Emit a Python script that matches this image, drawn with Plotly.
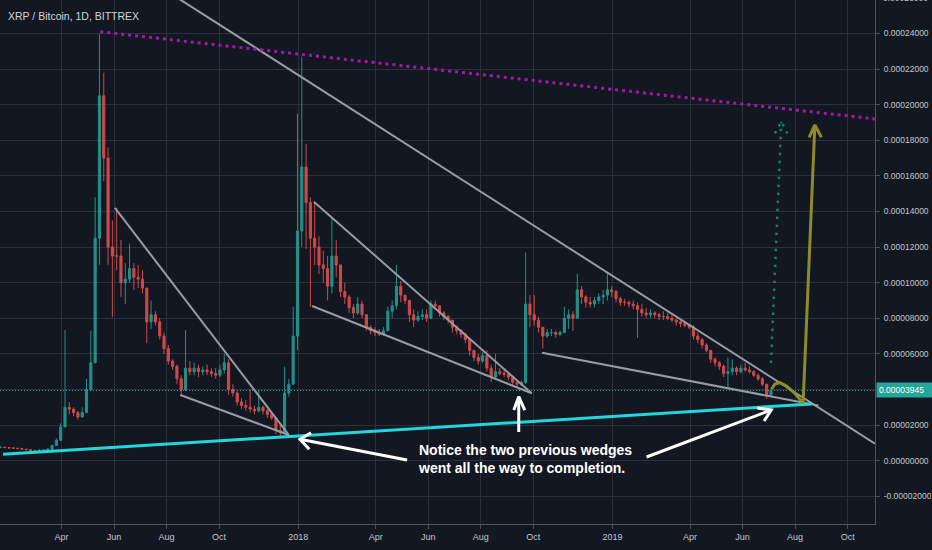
import pandas as pd
import plotly.graph_objects as go

TITLE = "XRP / Bitcoin, 1D, BITTREX"
CANDLE_START = "2017-01-20"
CANDLE_STEP = "5D"
LAST_PRICE_LABEL = "0.00003945"
LAST_PRICE = 3945

# candle values in satoshi (1e-8 BTC), one candle per 5 days
close_sat = [750, 740, 720, 700, 680, 650, 620, 580, 570, 590, 600, 640, 850, 1150, 1900, 3000,
             2900, 2700, 2450, 2700, 4000, 5500, 12500, 20500, 17000, 12000, 11500, 11500, 10000, 10200,
             10800, 10300, 10200, 9700, 7800, 8200, 7800, 7000, 6300, 5600, 5300, 4600, 4000, 5200,
             5000, 5200, 5000, 5100, 5000, 4900, 4800, 5100, 5500, 4000, 3800, 3300, 3100, 3000, 2900,
             2800, 3000, 2800, 2600, 2400, 1700, 1600, 3800, 4300, 7000, 12900, 16500, 14500, 12500,
             12000, 11000, 10800, 9800, 11500, 11000, 9500, 9200, 8600, 8300, 8800, 8200, 7500, 7300,
             7200, 7100, 7300, 8400, 8700, 9800, 9300, 9000, 8200, 7900, 8100, 8200, 8000, 8800, 8700,
             8300, 8100, 7900, 7500, 7300, 7100, 6800, 6200, 5800, 5600, 5900, 5200, 4700, 5000, 4900,
             4850, 4700, 4400, 4300, 4400, 8800, 8200, 7900, 7500, 7000, 7200, 7200, 7100, 7200, 8000,
             8200, 8000, 9600, 9200, 8900, 8800, 9000, 9200, 9300, 9600, 9500, 9100, 8900, 8900, 8800,
             8700, 8500, 8300, 8200, 8300, 8200, 8100, 8100, 8000, 7900, 7800, 7700, 7600, 7500, 7000,
             6800, 6500, 6200, 5700, 5500, 5300, 4900, 5000, 5200, 5000, 5200, 5100, 5000, 4800, 4600,
             4300, 3700, 3945]
high_sat = [800, 780, 760, 740, 720, 690, 660, 630, 610, 620, 640, 700, 900, 1250, 2100, 7340,
            3300, 3000, 2800, 3000, 4600, 7300, 14800, 24000, 21800, 17600, 13500, 14200, 12400, 11100,
            12200, 11100, 11000, 10700, 9700, 9000, 8400, 8000, 7200, 6500, 5700, 5400, 4800, 7340,
            5600, 5500, 5400, 5300, 5400, 5200, 5200, 5400, 6000, 5700, 4300, 3900, 3500, 3400, 4000,
            3100, 4000, 3100, 2900, 2700, 2400, 2000, 5270, 4600, 8650, 19500, 22700, 17800, 14800,
            14500, 12600, 11800, 11500, 13600, 12400, 11000, 10000, 9300, 8800, 9200, 9000, 8200, 7600,
            7500, 7400, 7500, 8650, 9000, 11000, 10100, 9300, 9000, 8500, 8400, 8500, 8500, 9000, 9000,
            8700, 8400, 8200, 7900, 7600, 7400, 7200, 6800, 6200, 6000, 6100, 6200, 5400, 6000, 5200,
            5100, 5000, 4700, 4500, 4500, 11700, 9300, 9300, 8100, 7500, 7400, 7400, 7300, 7300, 8650,
            8500, 8400, 10500, 9800, 9300, 9200, 9200, 9400, 9600, 10600, 9800, 9600, 9200, 9100, 9000,
            9000, 8900, 8800, 8600, 8500, 8400, 8300, 8400, 8300, 8200, 8000, 7900, 7800, 7700, 7600,
            7200, 6900, 6600, 6200, 5800, 5600, 5400, 5800, 5700, 5300, 5400, 5500, 5300, 5100, 4900,
            4700, 4300, 4000]
low_sat = [700, 700, 690, 670, 650, 620, 590, 550, 540, 550, 570, 600, 640, 850, 1150, 1900,
           2600, 2500, 2300, 2450, 2700, 3900, 5500, 11000, 15700, 11000, 8060, 10700, 9200, 8800,
           10000, 9600, 9700, 9400, 6600, 7400, 7600, 6800, 6000, 5400, 5100, 4300, 3700, 3900,
           4800, 4800, 4700, 4800, 4800, 4700, 4600, 4700, 4900, 3700, 3600, 3100, 2900, 2800, 2700,
           2600, 2700, 2600, 2400, 2300, 1500, 1330, 1600, 3600, 4300, 6200, 12000, 11900, 8650,
           11000, 10500, 10000, 9000, 9400, 10300, 9200, 8800, 8300, 8000, 8200, 8000, 7300, 7100,
           7000, 7000, 7000, 7300, 8000, 8500, 8900, 8800, 7800, 7500, 7800, 7900, 7800, 8000, 8500,
           8100, 7900, 7700, 7200, 7100, 6900, 6600, 5900, 5600, 5400, 5500, 5000, 4400, 4600, 4800,
           4700, 4500, 4200, 4100, 4200, 4300, 7500, 7600, 7200, 6300, 6900, 7000, 6900, 7000, 7200,
           7400, 7300, 8000, 8800, 8600, 8600, 8600, 8800, 8800, 9000, 9200, 8900, 8700, 8700, 8600,
           8500, 6900, 8100, 8000, 8000, 8000, 7900, 7900, 7900, 7800, 7600, 7500, 7500, 7400, 6800,
           6600, 6300, 6100, 5500, 5300, 5100, 4700, 4090, 4800, 4800, 4900, 5000, 4900, 4700, 4500,
           4200, 3480, 3600]

# x-axis tick labels
tick_dates = ["2017-04-01", "2017-06-01", "2017-08-01", "2017-10-01", "2018-01-01",
              "2018-04-01", "2018-06-01", "2018-08-01", "2018-10-01", "2019-01-01",
              "2019-04-01", "2019-06-01", "2019-08-01", "2019-10-01"]
tick_labels = ["Apr", "Jun", "Aug", "Oct", "2018", "Apr", "Jun", "Aug", "Oct", "2019",
               "Apr", "Jun", "Aug", "Oct"]
# y-axis ticks (satoshi) and labels; the 0.00004 label is hidden behind the price label
y_ticks_sat = [-2000, 0, 2000, 4000, 6000, 8000, 10000, 12000, 14000, 16000, 18000,
               20000, 22000, 24000]
y_tick_labels = ["-0.00002000", "0.00000000", "0.00002000", "", "0.00006000", "0.00008000",
                 "0.00010000", "0.00012000", "0.00014000", "0.00016000", "0.00018000",
                 "0.00020000", "0.00022000", "0.00024000"]
TOP_CUT_LABEL = "0.00026000"

# drawings (dates, satoshi values)
magenta_dates = ["2017-05-16", "2019-11-01 19:00"]
magenta_vals = [24100, 19200]
big_line_dates = ["2017-07-24", "2019-11-01 19:00"]
big_line_vals = [26640, 961]
wedge1_dates = ["2017-06-02", "2017-12-21", None, "2017-08-17", "2017-12-21"]
wedge1_vals = [14200, 1444, None, 3691, 1444]
wedge2_dates = ["2018-01-19", "2018-09-29", None, "2018-01-17", "2018-09-29"]
wedge2_vals = [14551, 3787, None, 8691, 3787]
wedge3_dates = ["2018-10-11", "2019-08-28"]
wedge3_vals = [6067, 3101]
cyan_dates = ["2017-01-23", "2019-08-20"]
cyan_vals = [360, 3185]
teal_arrow_dates = ["2019-07-04", "2019-07-16", None, "2019-07-08 12:00", "2019-07-16", "2019-07-23"]
teal_arrow_vals = [5489, 19045, None, 18393, 19045, 18393]
olive_dates = ["2019-07-04 14:00", "2019-07-08 12:00", "2019-07-14 07:00", "2019-07-22",
               "2019-07-31 17:00", "2019-08-08 10:00", "2019-08-10 07:00", "2019-08-23 22:00",
               None, "2019-08-17 07:00", "2019-08-23 22:00", "2019-08-31 12:00"]
olive_vals = [4011, 4309, 4382, 4197, 3786, 3315, 3225, 18860, None, 18169, 18860, 18169]
white_dates = ["2018-05-07 07:00", "2018-01-03", None, "2018-01-15 17:00", "2018-01-03", "2018-01-13 17:00",
               None, "2019-02-09 10:00", "2019-07-04 07:00", None, "2019-06-18", "2019-07-04 07:00", "2019-06-26",
               None, "2018-09-14", "2018-09-14", None, "2018-09-08 07:00", "2018-09-14", "2018-09-21"]
white_vals = [39, 1202, None, 1573, 1202, 640,
              None, 208, 2848, None, 2961, 2848, 2230,
              None, 1612, 3595, None, 2848, 3595, 2848]
note_lines = ["Notice the two previous wedges", "went all the way to completion."]
note_date = "2018-05-17 17:00"
note_val = 100

S = 1e-8
def sc(vals):
    return [None if v is None else v * S for v in vals]

BG = "#131722"
GRID = "#2c303b"
UP = "#26a69a"
DOWN = "#ef5350"
TXT = "#c3c6ce"
AXFONT = "Liberation Sans Narrow, Liberation Sans, Arial"

dates = pd.date_range(CANDLE_START, periods=len(close_sat), freq=CANDLE_STEP)
open_sat = [close_sat[0]] + close_sat[:-1]

fig = go.Figure()
fig.add_trace(go.Candlestick(
    x=dates, open=sc(open_sat), high=sc(high_sat), low=sc(low_sat), close=sc(close_sat),
    increasing=dict(line=dict(color=UP, width=1), fillcolor=UP),
    decreasing=dict(line=dict(color=DOWN, width=1), fillcolor=DOWN),
    whiskerwidth=0, opacity=0.85, showlegend=False, hoverinfo="skip"))

# last price dotted line
fig.add_hline(y=LAST_PRICE * S, line=dict(color=UP, width=1, dash="1px,2px"))

def add_line(xs, ys, color, width, dash=None, opacity=1.0):
    fig.add_trace(go.Scatter(x=xs, y=sc(ys), mode="lines", connectgaps=False,
                             line=dict(color=color, width=width, dash=dash),
                             opacity=opacity, showlegend=False, hoverinfo="skip"))

add_line(big_line_dates, big_line_vals, "#9a9ca3", 2)
add_line(wedge1_dates, wedge1_vals, "#9a9ca3", 2)
add_line(wedge2_dates, wedge2_vals, "#9a9ca3", 2)
add_line(wedge3_dates, wedge3_vals, "#9a9ca3", 2)
add_line(magenta_dates, magenta_vals, "#a11aa3", 3, "3px,4px")
add_line(cyan_dates, cyan_vals, "#22d6d9", 3)
add_line(teal_arrow_dates, teal_arrow_vals, "#12806f", 2.5, "2.5px,5.5px")
add_line(olive_dates, olive_vals, "#8e8c28", 3)
add_line(white_dates, white_vals, "#ffffff", 3)

annotations = [
    dict(text=TITLE, xref="paper", yref="paper", x=0, y=1, xanchor="left", yanchor="middle",
         xshift=6, yshift=-16, showarrow=False,
         font=dict(family=AXFONT, size=10.5, color="#d1d4dc")),
    dict(text="<br>".join("<b>" + s + "</b>" for s in note_lines), x=note_date, y=note_val * S,
         xref="x", yref="y", xanchor="left", yanchor="middle", align="left", showarrow=False,
         font=dict(family="Liberation Sans, Arial", size=14, color="#ffffff")),
    dict(text=LAST_PRICE_LABEL, xref="paper", yref="y", x=1, y=LAST_PRICE * S, xanchor="left",
         yanchor="middle", showarrow=False, bgcolor=UP, borderpad=2, width=51, align="left",
         xshift=1, font=dict(family=AXFONT, size=8.5, color="#ffffff")),
    dict(text=TOP_CUT_LABEL, xref="paper", yref="paper", x=1, y=1.0, xanchor="left",
         yanchor="middle", xshift=6, yshift=2, showarrow=False,
         font=dict(family=AXFONT, size=8.5, color=TXT)),
]

fig.update_layout(
    width=932, height=550,
    margin=dict(l=0, r=55, t=0, b=26),
    paper_bgcolor=BG, plot_bgcolor=BG,
    showlegend=False, hovermode=False, dragmode=False,
    annotations=annotations,
    xaxis=dict(
        range=["2017-01-19 12:00", "2019-11-01 19:00"],
        rangeslider=dict(visible=False),
        tickvals=tick_dates, ticktext=tick_labels,
        showgrid=True, gridcolor=GRID, gridwidth=1,
        ticks="outside", ticklen=4, tickcolor="#4a4e59",
        showline=True, linecolor="#50535e", linewidth=1,
        tickfont=dict(family=AXFONT, size=9, color=TXT),
        zeroline=False, fixedrange=True,
    ),
    yaxis=dict(
        side="right",
        range=[-3556 * S, 25882 * S],
        tickvals=[v * S for v in y_ticks_sat], ticktext=y_tick_labels,
        showgrid=True, gridcolor=GRID, gridwidth=1,
        ticks="outside", ticklen=4, tickcolor="#4a4e59", ticklabelstandoff=2,
        showline=True, linecolor="#50535e", linewidth=1,
        tickfont=dict(family=AXFONT, size=8.5, color=TXT),
        zeroline=False, fixedrange=True,
    ),
)

fig.write_html("out.html", config={"displayModeBar": False, "staticPlot": True},
               post_script="document.body.style.margin='0';document.body.style.overflow='hidden';")
